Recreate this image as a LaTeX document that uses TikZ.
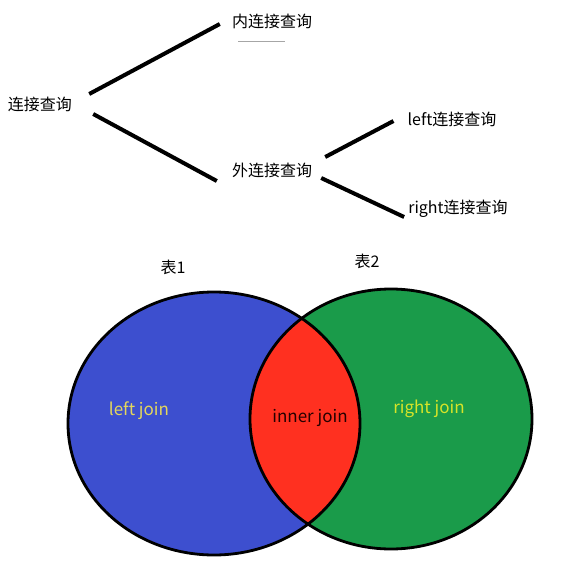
\documentclass[tikz,border=0pt]{standalone}
\usepackage{fontspec}
\setmainfont{Noto Sans CJK SC}
\usepackage{tikz}
\usetikzlibrary{positioning}

\definecolor{tblblue}{RGB}{61,79,207}
\definecolor{tblgreen}{RGB}{26,155,74}
\definecolor{lensred}{RGB}{255,48,32}
\definecolor{paleyellow}{RGB}{228,214,92}
\definecolor{limeyellow}{RGB}{214,228,40}

\begin{document}
\begin{tikzpicture}[
    x=1pt, y=-1pt,
    every node/.style={inner sep=0pt, font=\fontsize{16}{19}\selectfont},
    branch/.style={line width=4pt},
    rim/.style={line width=2.8pt},
    venntext/.style={font=\fontsize{17}{20}\selectfont},
    tbltext/.style={font=\fontsize{16}{19}\selectfont}
]
\useasboundingbox (0,0) rectangle (565,564);

\node (join) at (40,104) {连接查询};
\node (inner) at (272,21) {内连接查询};
\node (outer) at (272,170) {外连接查询};
\node (leftq) at (452,119) {left连接查询};
\node (rightq) at (458,209) {right连接查询};

\draw[branch] ([shift={(17,-10)}]join.east) -- ([shift={(-12,3)}]inner.west);
\draw[branch] ([shift={(21,10)}]join.east) -- ([shift={(-15,11)}]outer.west);
\draw[branch] ([shift={(13,-13)}]outer.east) -- ([shift={(-14,2)}]leftq.west);
\draw[branch] ([shift={(9,8)}]outer.east) -- ([shift={(-4,8)}]rightq.west);
\draw[gray!70, line width=0.8pt] ([shift={(-34,20)}]inner.center) -- ([shift={(13,20)}]inner.center);

\coordinate (lt) at (214,423.5);
\coordinate (rt) at (391,419);

\fill[tblblue] (lt) ellipse [x radius=146pt, y radius=131.5pt];
\fill[tblgreen] (rt) ellipse [x radius=141pt, y radius=130pt];
\begin{scope}
  \clip (lt) ellipse [x radius=146pt, y radius=131.5pt];
  \fill[lensred] (rt) ellipse [x radius=141pt, y radius=130pt];
\end{scope}
\draw[rim] (lt) ellipse [x radius=146pt, y radius=131.5pt];
\draw[rim] (rt) ellipse [x radius=141pt, y radius=130pt];

\node[tbltext] (tbl1) at (173,267) {表1};
\node[tbltext] (tbl2) at (367,261) {表2};
\node[venntext, text=paleyellow] (leftj) at (139,411) {left join};
\node[venntext, text=black!85!red] (innerj) at (310,418) {inner join};
\node[venntext, text=limeyellow] (rightj) at (429,409) {right join};

\end{tikzpicture}
\end{document}
